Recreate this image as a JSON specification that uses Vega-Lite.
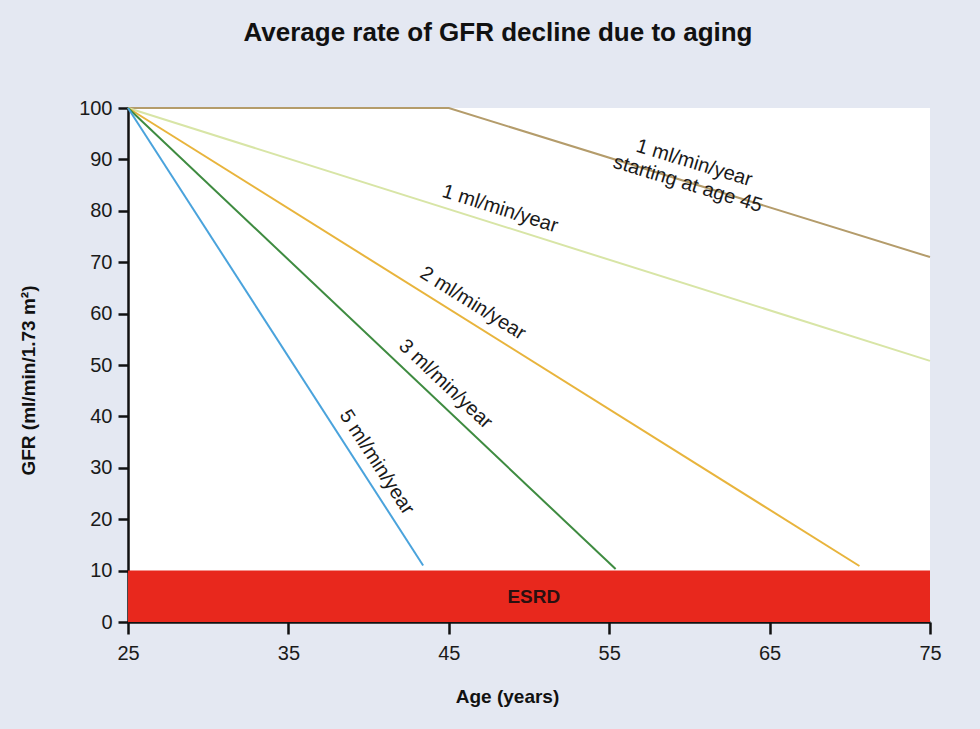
{
  "$schema": "https://vega.github.io/schema/vega-lite/v6.json",
  "width": 802,
  "height": 514,
  "autosize": "none",
  "padding": {"left": 128, "top": 108, "right": 50, "bottom": 107},
  "background": "#e4e8f2",
  "title": {
    "text": "Average rate of GFR decline due to aging",
    "font": "Liberation Sans",
    "fontSize": 26,
    "fontWeight": "bold",
    "color": "#111111",
    "anchor": "middle",
    "offset": 52,
    "dx": -31
  },
  "config": {
    "view": {"fill": "white", "stroke": null},
    "font": "Liberation Sans",
    "axis": {
      "grid": false,
      "domainColor": "#111111",
      "domainWidth": 2.5,
      "tickColor": "#111111",
      "tickWidth": 2.5,
      "labelFont": "Liberation Sans",
      "labelFontSize": 20,
      "labelColor": "#1a1a1a",
      "titleFont": "Liberation Sans",
      "titleFontSize": 19,
      "titleFontWeight": "bold",
      "titleColor": "#111111",
      "zindex": 1
    }
  },
  "datasets": {
    "band": [{"x0": 25, "x1": 75, "y0": 0, "y1": 10}],
    "lines": [
      {"series": "1 ml/min/year starting at age 45", "age": 25, "gfr": 100},
      {"series": "1 ml/min/year starting at age 45", "age": 45, "gfr": 100},
      {"series": "1 ml/min/year starting at age 45", "age": 75, "gfr": 71},
      {"series": "1 ml/min/year", "age": 25, "gfr": 100},
      {"series": "1 ml/min/year", "age": 75, "gfr": 50.8},
      {"series": "2 ml/min/year", "age": 25, "gfr": 100},
      {"series": "2 ml/min/year", "age": 70.6, "gfr": 10.9},
      {"series": "3 ml/min/year", "age": 25, "gfr": 100},
      {"series": "3 ml/min/year", "age": 55.4, "gfr": 10.3},
      {"series": "5 ml/min/year", "age": 25, "gfr": 100},
      {"series": "5 ml/min/year", "age": 43.4, "gfr": 11}
    ],
    "labels": [
      {"key": "tan", "text": "1 ml/min/year\nstarting at age 45", "age": 60.3, "gfr": 89.3},
      {"key": "lg", "text": "1 ml/min/year", "age": 48.2, "gfr": 80.4},
      {"key": "or", "text": "2 ml/min/year", "age": 46.5, "gfr": 62.0},
      {"key": "gr", "text": "3 ml/min/year", "age": 44.8, "gfr": 46.3},
      {"key": "bl", "text": "5 ml/min/year", "age": 40.5, "gfr": 31.1},
      {"key": "esrd", "text": "ESRD", "age": 50.3, "gfr": 4.9}
    ]
  },
  "layer": [
    {
      "data": {"name": "band"},
      "mark": {"type": "rect", "color": "#e8281d"},
      "encoding": {
        "x": {
          "field": "x0",
          "type": "quantitative",
          "scale": {"domain": [25, 75], "nice": false, "zero": false},
          "axis": {
            "title": "Age (years)",
            "values": [25, 35, 45, 55, 65, 75],
            "tickSize": 12,
            "labelPadding": 9,
            "labelFlush": false,
            "titlePadding": 24,
            "titleX": 379
          }
        },
        "x2": {"field": "x1"},
        "y": {
          "field": "y0",
          "type": "quantitative",
          "scale": {"domain": [0, 100], "nice": false},
          "axis": {
            "title": "GFR (ml/min/1.73 m²)",
            "values": [0, 10, 20, 30, 40, 50, 60, 70, 80, 90, 100],
            "tickSize": 10,
            "labelPadding": 6,
            "labelFlush": false,
            "titlePadding": 40,
            "titleY": 272
          }
        },
        "y2": {"field": "y1"}
      }
    },
    {
      "data": {"name": "lines"},
      "mark": {"type": "line", "strokeWidth": 2},
      "encoding": {
        "x": {"field": "age", "type": "quantitative"},
        "y": {"field": "gfr", "type": "quantitative"},
        "color": {
          "field": "series",
          "type": "nominal",
          "scale": {
            "domain": ["1 ml/min/year starting at age 45", "1 ml/min/year", "2 ml/min/year", "3 ml/min/year", "5 ml/min/year"],
            "range": ["#b49c6b", "#d8e5a6", "#e8b43c", "#3e8b40", "#4aa3dc"]
          },
          "legend": null
        }
      }
    },
    {
      "data": {"name": "labels"},
      "transform": [{"filter": "datum.key === 'tan'"}],
      "mark": {"type": "text", "angle": 17, "fontSize": 20, "color": "#1a1a1a", "lineBreak": "\n", "lineHeight": 22, "align": "center", "baseline": "middle"},
      "encoding": {"x": {"field": "age", "type": "quantitative"}, "y": {"field": "gfr", "type": "quantitative"}, "text": {"field": "text"}}
    },
    {
      "data": {"name": "labels"},
      "transform": [{"filter": "datum.key === 'lg'"}],
      "mark": {"type": "text", "angle": 17.5, "fontSize": 20, "color": "#1a1a1a", "align": "center", "baseline": "middle"},
      "encoding": {"x": {"field": "age", "type": "quantitative"}, "y": {"field": "gfr", "type": "quantitative"}, "text": {"field": "text"}}
    },
    {
      "data": {"name": "labels"},
      "transform": [{"filter": "datum.key === 'or'"}],
      "mark": {"type": "text", "angle": 32, "fontSize": 20, "color": "#1a1a1a", "align": "center", "baseline": "middle"},
      "encoding": {"x": {"field": "age", "type": "quantitative"}, "y": {"field": "gfr", "type": "quantitative"}, "text": {"field": "text"}}
    },
    {
      "data": {"name": "labels"},
      "transform": [{"filter": "datum.key === 'gr'"}],
      "mark": {"type": "text", "angle": 43.4, "fontSize": 20, "color": "#1a1a1a", "align": "center", "baseline": "middle"},
      "encoding": {"x": {"field": "age", "type": "quantitative"}, "y": {"field": "gfr", "type": "quantitative"}, "text": {"field": "text"}}
    },
    {
      "data": {"name": "labels"},
      "transform": [{"filter": "datum.key === 'bl'"}],
      "mark": {"type": "text", "angle": 57, "fontSize": 20, "color": "#1a1a1a", "align": "center", "baseline": "middle"},
      "encoding": {"x": {"field": "age", "type": "quantitative"}, "y": {"field": "gfr", "type": "quantitative"}, "text": {"field": "text"}}
    },
    {
      "data": {"name": "labels"},
      "transform": [{"filter": "datum.key === 'esrd'"}],
      "mark": {"type": "text", "fontSize": 19, "fontWeight": "bold", "color": "#2a1010", "align": "center", "baseline": "middle"},
      "encoding": {"x": {"field": "age", "type": "quantitative"}, "y": {"field": "gfr", "type": "quantitative"}, "text": {"field": "text"}}
    }
  ]
}
